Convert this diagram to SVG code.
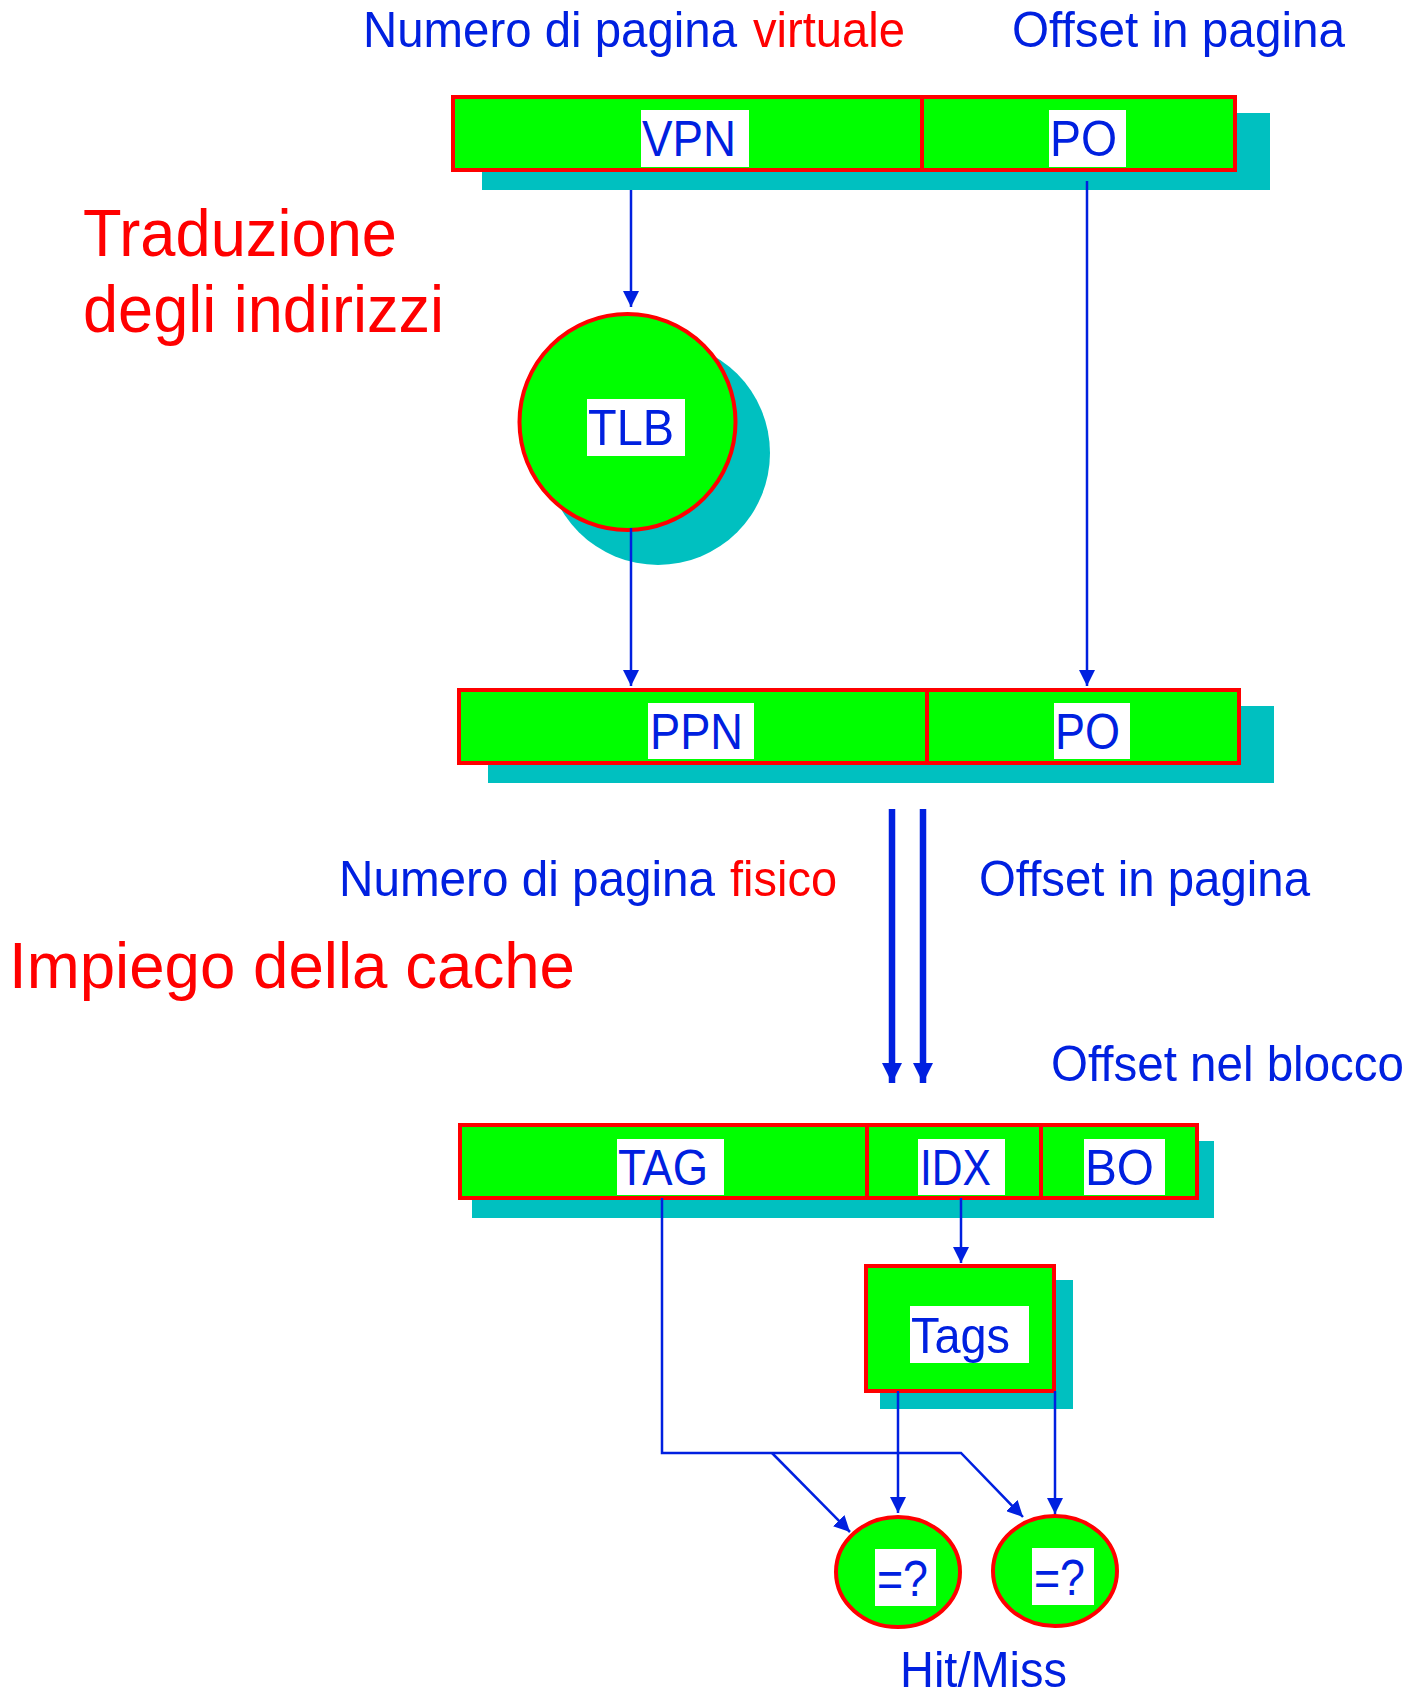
<svg xmlns="http://www.w3.org/2000/svg" width="1424" height="1698" viewBox="0 0 1424 1698">
  <defs>
    <style>
      .shadow { fill: #00c0c0; }
      .field { fill: #00ff00; stroke: #ff0000; stroke-width: 4; }
      .sep { stroke: #ff0000; stroke-width: 4; }
      .chip { fill: #ffffff; }
      .lbl { font-family: "Liberation Sans", Arial, sans-serif; fill: #0020e0; }
      .red { font-family: "Liberation Sans", Arial, sans-serif; fill: #ff0000; }
      .wire { fill: none; stroke: #0020e0; stroke-width: 2.5; }
      .bus { fill: none; stroke: #0020e0; stroke-width: 6.5; }
    </style>
    <marker id="tip" viewBox="0 0 16 16" markerWidth="16" markerHeight="16" refX="16" refY="8" orient="auto" markerUnits="userSpaceOnUse">
      <path d="M0,0 L16,8 L0,16 z" fill="#0020e0"/>
    </marker>
    <marker id="tipBig" viewBox="0 0 20 20" markerWidth="20" markerHeight="20" refX="20" refY="10" orient="auto" markerUnits="userSpaceOnUse">
      <path d="M0,0 L20,10 L0,20 z" fill="#0020e0"/>
    </marker>
  </defs>

  <rect width="1424" height="1698" fill="#ffffff"/>

  <!-- headings -->
  <g id="captions">
    <text class="lbl" x="363" y="47" font-size="50" textLength="374" lengthAdjust="spacingAndGlyphs">Numero di pagina</text>
    <text class="red" x="753" y="47" font-size="50" textLength="152" lengthAdjust="spacingAndGlyphs">virtuale</text>
    <text class="lbl" x="1012" y="47" font-size="50" textLength="333" lengthAdjust="spacingAndGlyphs">Offset in pagina</text>
    <text class="red" x="83" y="256" font-size="67" textLength="314" lengthAdjust="spacingAndGlyphs">Traduzione</text>
    <text class="red" x="83" y="332" font-size="67" textLength="361" lengthAdjust="spacingAndGlyphs">degli indirizzi</text>
    <text class="lbl" x="339" y="896" font-size="50" textLength="376" lengthAdjust="spacingAndGlyphs">Numero di pagina</text>
    <text class="red" x="730" y="896" font-size="50" textLength="107" lengthAdjust="spacingAndGlyphs">fisico</text>
    <text class="lbl" x="979" y="896" font-size="50" textLength="331" lengthAdjust="spacingAndGlyphs">Offset in pagina</text>
    <text class="red" x="9" y="988" font-size="64" textLength="566" lengthAdjust="spacingAndGlyphs">Impiego della cache</text>
    <text class="lbl" x="1051" y="1081" font-size="50" textLength="353" lengthAdjust="spacingAndGlyphs">Offset nel blocco</text>
    <text class="lbl" x="900" y="1687" font-size="50" textLength="167" lengthAdjust="spacingAndGlyphs">Hit/Miss</text>
  </g>

  <!-- virtual address: VPN | PO -->
  <g id="virtual-address">
    <rect class="shadow" x="482" y="113" width="788" height="77"/>
    <rect class="field" x="453" y="97" width="782" height="73"/>
    <line class="sep" x1="922" y1="97" x2="922" y2="170"/>
    <rect class="chip" x="641" y="110" width="108" height="57"/>
    <text class="lbl" x="642" y="156" font-size="50" textLength="94" lengthAdjust="spacingAndGlyphs">VPN</text>
    <rect class="chip" x="1049" y="110" width="77" height="57"/>
    <text class="lbl" x="1050" y="156" font-size="50" textLength="67" lengthAdjust="spacingAndGlyphs">PO</text>
  </g>

  <!-- TLB -->
  <g id="tlb">
    <circle class="shadow" cx="658" cy="453" r="112"/>
    <circle class="field" cx="627.5" cy="422" r="108"/>
    <rect class="chip" x="587" y="399" width="98" height="57"/>
    <text class="lbl" x="588" y="445" font-size="50" textLength="86" lengthAdjust="spacingAndGlyphs">TLB</text>
  </g>

  <!-- physical address: PPN | PO -->
  <g id="physical-address">
    <rect class="shadow" x="488" y="706" width="786" height="77"/>
    <rect class="field" x="459" y="690" width="780" height="73"/>
    <line class="sep" x1="927" y1="690" x2="927" y2="763"/>
    <rect class="chip" x="648" y="703" width="106" height="56"/>
    <text class="lbl" x="650" y="749" font-size="50" textLength="93" lengthAdjust="spacingAndGlyphs">PPN</text>
    <rect class="chip" x="1054" y="703" width="76" height="56"/>
    <text class="lbl" x="1055" y="749" font-size="50" textLength="65" lengthAdjust="spacingAndGlyphs">PO</text>
  </g>

  <!-- cache view: TAG | IDX | BO -->
  <g id="cache-address">
    <rect class="shadow" x="472" y="1141" width="742" height="77"/>
    <rect class="field" x="460" y="1125" width="737" height="73"/>
    <line class="sep" x1="867" y1="1125" x2="867" y2="1198"/>
    <line class="sep" x1="1041" y1="1125" x2="1041" y2="1198"/>
    <rect class="chip" x="617" y="1139" width="107" height="56"/>
    <text class="lbl" x="618" y="1185" font-size="50" textLength="90" lengthAdjust="spacingAndGlyphs">TAG</text>
    <rect class="chip" x="918" y="1139" width="87" height="56"/>
    <text class="lbl" x="920" y="1185" font-size="50" textLength="71" lengthAdjust="spacingAndGlyphs">IDX</text>
    <rect class="chip" x="1084" y="1139" width="81" height="56"/>
    <text class="lbl" x="1085" y="1185" font-size="50" textLength="69" lengthAdjust="spacingAndGlyphs">BO</text>
  </g>

  <!-- tag array -->
  <g id="tags">
    <rect class="shadow" x="880" y="1280" width="193" height="129"/>
    <rect class="field" x="866" y="1266" width="188" height="125"/>
    <rect class="chip" x="910" y="1306" width="119" height="57"/>
    <text class="lbl" x="911" y="1353" font-size="50" textLength="99" lengthAdjust="spacingAndGlyphs">Tags</text>
  </g>

  <!-- comparators -->
  <g id="cmp-1">
    <ellipse class="field" cx="898" cy="1572" rx="62" ry="55"/>
    <rect class="chip" x="875" y="1549" width="61" height="57"/>
    <text class="lbl" x="877" y="1596" font-size="50" textLength="51" lengthAdjust="spacingAndGlyphs">=?</text>
  </g>
  <g id="cmp-2">
    <ellipse class="field" cx="1055" cy="1571" rx="62" ry="55"/>
    <rect class="chip" x="1032" y="1548" width="62" height="57"/>
    <text class="lbl" x="1034" y="1595" font-size="50" textLength="51" lengthAdjust="spacingAndGlyphs">=?</text>
  </g>

  <!-- connectors -->
  <g id="connectors">
    <line class="wire" x1="631" y1="190" x2="631" y2="307" marker-end="url(#tip)"/>
    <line class="wire" x1="1087" y1="181" x2="1087" y2="686" marker-end="url(#tip)"/>
    <line class="wire" x1="631" y1="528" x2="631" y2="686" marker-end="url(#tip)"/>
    <line class="bus" x1="892" y1="809" x2="892" y2="1083" marker-end="url(#tipBig)"/>
    <line class="bus" x1="923" y1="809" x2="923" y2="1083" marker-end="url(#tipBig)"/>
    <line class="wire" x1="961" y1="1198" x2="961" y2="1263" marker-end="url(#tip)"/>
    <polyline class="wire" points="662,1198 662,1453 961,1453 1023,1517" marker-end="url(#tip)"/>
    <line class="wire" x1="772" y1="1453" x2="850" y2="1532" marker-end="url(#tip)"/>
    <line class="wire" x1="898" y1="1391" x2="898" y2="1513" marker-end="url(#tip)"/>
    <line class="wire" x1="1055" y1="1391" x2="1055" y2="1514" marker-end="url(#tip)"/>
  </g>
</svg>
